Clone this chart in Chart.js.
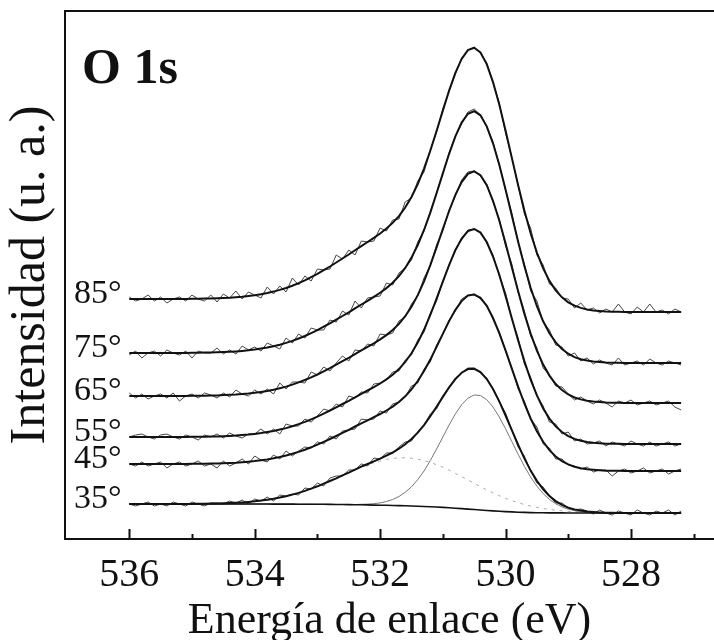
<!DOCTYPE html>
<html>
<head>
<meta charset="utf-8">
<script src="https://cdn.jsdelivr.net/npm/chart.js@4.4.0/dist/chart.umd.min.js"></script>
<style>
  html, body { margin: 0; background: #fff; }
  canvas { display: block; }
</style>
</head>
<body>
<canvas id="o1s" width="714" height="640"></canvas>
<script>
// Binding energy grid (eV), 0.1 eV steps
const energies = [536.0,535.9,535.8,535.7,535.6,535.5,535.4,535.3,535.2,535.1,
  535.0,534.9,534.8,534.7,534.6,534.5,534.4,534.3,534.2,534.1,
  534.0,533.9,533.8,533.7,533.6,533.5,533.4,533.3,533.2,533.1,
  533.0,532.9,532.8,532.7,532.6,532.5,532.4,532.3,532.2,532.1,
  532.0,531.9,531.8,531.7,531.6,531.5,531.4,531.3,531.2,531.1,
  531.0,530.9,530.8,530.7,530.6,530.5,530.4,530.3,530.2,530.1,
  530.0,529.9,529.8,529.7,529.6,529.5,529.4,529.3,529.2,529.1,
  529.0,528.9,528.8,528.7,528.6,528.5,528.4,528.3,528.2,528.1,
  528.0,527.9,527.8,527.7,527.6,527.5,527.4,527.3,527.2];

const angles = ['85°', '75°', '65°', '55°', '45°', '35°'];
const tickValues = [528, 530, 532, 534, 536];

// Fitted envelopes (offset stacked, arbitrary units)
const fit85 = [240,240,240,240,240,240,240,240,240.1,240.1,
  240.2,240.3,240.4,240.5,240.7,241.0,241.3,241.8,242.3,243.0,
  243.8,244.8,246.0,247.4,249.1,251.0,253.3,255.8,258.6,261.8,
  265.1,268.8,272.5,276.5,280.5,284.5,288.8,292.9,297.0,301.1,
  305.5,310.4,316.1,322.9,331.5,342.0,354.9,370.4,388.2,408.0,
  428.4,448.4,466.2,480.1,488.9,491.2,486.5,474.9,456.9,434.4,
  408.4,381.1,354.0,328.4,305.7,286.4,270.6,258.1,248.6,241.7,
  236.7,233.3,231.1,229.6,228.6,228.0,227.4,227.3,227.2,227.1,
  227.1,227,227,227,227,227,227,227,227];
const fit75 = [186,186,186,186,186,186.1,186.1,186.1,186.1,186.1,
  186.2,186.2,186.4,186.5,186.7,186.9,187.2,187.6,188.1,188.7,
  189.4,190.4,191.5,192.8,194.3,196.1,198.1,200.5,203.0,205.9,
  208.9,212.3,215.7,219.3,223.0,226.6,230.6,234.5,238.2,242.1,
  246.2,250.9,256.3,262.9,271.1,281.4,294.0,309.0,326.4,345.7,
  365.6,385.2,402.7,416.4,425.3,427.8,423.7,412.7,395.7,374.3,
  349.6,323.4,297.5,273.1,251.3,232.8,217.7,205.7,196.6,190.0,
  185.3,181.9,179.8,178.5,177.5,176.9,176.4,176.2,176.2,176.1,
  176.1,176,176,176,176,176,176,176,176];
const fit65 = [143,143,143,143,143,143.1,143.1,143.1,143.1,143.1,
  143.2,143.2,143.3,143.5,143.6,143.9,144.2,144.5,145.0,145.5,
  146.2,147.1,148.1,149.3,150.8,152.4,154.4,156.6,159.0,161.7,
  164.5,167.7,170.9,174.3,177.8,181.2,184.9,188.6,192.1,195.7,
  199.6,203.9,209.0,215.1,222.8,232.2,243.9,257.7,273.8,291.6,
  310.0,328.0,344.2,356.9,365.1,367.6,363.8,353.8,338.2,318.5,
  295.7,271.7,247.9,225.4,205.4,188.4,174.4,163.4,155.0,148.9,
  144.5,141.5,139.6,138.3,137.4,136.9,136.4,136.2,136.2,136.1,
  136.1,136,136,136,136,136,136,136,136];
const fit55 = [102,102,102,102,102,102.1,102.1,102.1,102.1,102.1,
  102.2,102.2,102.3,102.4,102.6,102.8,103.1,103.4,103.9,104.4,
  105.1,105.9,106.9,108.0,109.4,110.9,112.8,114.9,117.1,119.7,
  122.4,125.4,128.5,131.7,135.0,138.2,141.7,145.2,148.5,151.9,
  155.5,159.6,164.3,169.9,177.0,185.7,196.4,209.2,224.0,240.4,
  257.3,273.9,288.8,300.4,307.9,310.0,306.4,297.0,282.5,264.3,
  243.1,220.8,198.7,177.9,159.3,143.6,130.6,120.4,112.6,107.0,
  102.9,100.1,98.3,97.1,96.3,95.8,95.3,95.2,95.2,95.1,
  95.1,95,95,95,95,95,95,95,95];
const fit45 = [75,75,75,75,75,75.1,75.1,75.1,75.1,75.1,
  75.2,75.2,75.3,75.4,75.6,75.8,76.0,76.3,76.8,77.3,
  77.9,78.7,79.6,80.7,82.0,83.5,85.2,87.1,89.3,91.7,
  94.3,97.1,100.0,103.0,106.1,109.2,112.5,115.7,118.7,121.8,
  125.0,128.5,132.4,137.0,142.7,149.6,158.0,167.9,179.4,192.1,
  205.1,217.9,229.2,237.9,243.4,244.5,241.1,233.1,221.0,205.9,
  188.6,170.4,152.5,135.5,120.5,107.7,97.2,88.9,82.5,77.9,
  74.6,72.3,70.8,69.8,69.2,68.7,68.3,68.2,68.2,68.1,
  68.1,68,68,68,68,68,68,68,68];
const fit35 = [35,35,35,35,35,35,35,35,35.1,35.1,
  35.1,35.2,35.3,35.4,35.5,35.7,35.9,36.2,36.6,37.1,
  37.7,38.4,39.3,40.2,41.4,42.8,44.4,46.1,48.1,50.4,
  52.7,55.3,58.0,60.7,63.6,66.4,69.4,72.3,75.0,77.6,
  80.4,83.4,86.5,90.3,94.7,100.0,106.4,113.9,122.7,132.3,
  142.1,151.6,159.9,166.3,169.9,170.2,166.9,160.0,150.0,137.6,
  123.5,108.8,94.3,80.6,68.4,58.2,49.7,43.0,37.9,34.2,
  31.4,29.6,28.4,27.5,27.0,26.6,26.3,26.2,26.1,26.1,
  26.1,26,26,26,26,26,26,26,26];

// Measured spectra
const raw85 = [242,238,240,244,238,242,236,240,242,238,
  244,240,238,244,237,245,241,248,240,247,
  244,241,252,245,253,247,261,254,263,258,
  270,269,270,284,280,289,284,298,297,298,
  311,308,319,320,337,341,358,367,389,407,
  430,448,465,481,489,492,486,476,456,436,
  406,382,354,325,311,284,274,255,251,241,
  240,231,236,229,231,226,230,227,235,227,
  225,232,227,235,227,229,225,230,227];
const raw75 = [184,188,181,186,188,183,189,186,184,188,
  181,188,186,186,191,185,189,185,193,189,
  192,188,196,193,190,201,196,205,201,211,
  209,209,219,217,228,224,238,231,241,242,
  243,256,254,266,271,279,297,308,327,346,
  365,386,403,415,427,430,424,412,397,374,
  349,326,297,275,248,238,217,209,194,192,
  183,186,178,181,175,179,176,174,181,174,
  176,178,174,180,176,174,178,176,174];
const raw65 = [146,141,145,140,143,145,141,146,138,143,
  145,141,146,144,141,146,142,149,145,143,
  149,145,150,145,156,150,157,157,156,167,
  164,172,168,176,183,178,189,188,195,193,
  205,204,206,218,222,235,243,261,273,294,
  308,329,343,359,367,368,363,355,337,320,
  293,275,247,228,203,191,171,164,153,152,
  145,139,142,138,135,139,136,132,138,136,
  139,134,136,138,134,136,138,132,129];
const raw55 = [102,104,105,102,100,104,105,102,100,104,
  102,99,104,102,105,101,106,103,101,105,
  105,110,105,110,105,115,113,113,120,117,
  123,130,128,135,132,143,141,147,146,155,
  156,159,167,168,179,184,199,207,226,238,
  258,274,290,299,309,310,307,296,284,263,
  246,220,201,175,162,143,133,117,115,105,
  107,98,100,95,96,98,93,97,95,93,
  98,95,93,97,93,95,97,93,95];
const raw45 = [75,73,77,73,75,77,71,75,77,73,
  75,78,73,75,71,78,73,76,80,75,
  83,79,77,84,80,88,83,88,92,91,
  97,95,103,100,108,109,110,120,119,120,
  128,126,135,137,142,153,156,170,177,194,
  205,219,228,240,244,245,240,234,220,207,
  188,171,150,138,120,112,95,91,80,80,
  74,73,70,72,67,69,69,63,68,70,
  66,68,71,66,68,70,65,68,70];
const raw35 = [35,33,35,37,33,35,33,37,35,33,
  37,35,33,36,36,35,38,36,39,35,
  40,38,42,38,44,43,45,44,51,50,
  56,53,61,63,63,69,69,75,73,81,
  80,86,86,92,97,98,107,114,125,130,
  143,152,161,166,171,171,166,161,150,137,
  126,109,92,83,68,56,52,43,36,36,
  31,29,30,28,25,29,26,24,28,26,
  24,29,26,24,28,26,29,24,28];

// 35° deconvolution: Shirley background and the two O 1s components
const bg35 = [35,35,35,35,35,35,35,35,35,35,
  35,35,35,35,35,35,35,35,35,35,
  35,35,35,34.9,34.9,34.9,34.9,34.8,34.8,34.8,
  34.7,34.7,34.6,34.5,34.5,34.4,34.3,34.2,34.1,33.9,
  33.8,33.7,33.5,33.4,33.2,33.0,32.8,32.5,32.3,32.0,
  31.6,31.2,30.8,30.4,29.9,29.5,29.0,28.5,28.1,27.7,
  27.4,27.1,26.8,26.6,26.4,26.3,26.2,26.1,26.1,26.1,
  26,26,26,26,26,26,26,26,26,26,
  26,26,26,26,26,26,26,26,26];
const lattice35 = [35,35,35,35,35,35,35,35,35,35,
  35,35,35,35,35,35,35,35,35,35,
  35,35,35,34.9,34.9,34.9,34.9,34.8,34.8,34.8,
  34.7,34.7,34.6,34.5,34.5,34.4,34.5,34.7,34.9,35.3,
  36.1,37.5,39.5,42.5,46.7,52.2,59.4,68.0,78.4,90.0,
  102.0,114.0,125.1,134.3,140.8,144.0,143.5,139.4,132.0,122.0,
  110.2,97.5,84.8,72.7,61.9,52.9,45.4,39.6,35.2,32.1,
  29.8,28.3,27.4,26.8,26.5,26.2,26,26,26,26,
  26,26,26,26,26,26,26,26,26];
const hydroxyl35 = [35,35,35,35,35,35,35,35,35.1,35.1,
  35.1,35.2,35.3,35.4,35.5,35.7,35.9,36.2,36.6,37.1,
  37.7,38.4,39.3,40.2,41.4,42.8,44.4,46.1,48.1,50.4,
  52.7,55.3,58.0,60.7,63.6,66.4,69.2,71.8,74.2,76.2,
  78.1,79.6,80.5,81.2,81.2,80.8,79.8,78.4,76.6,74.3,
  71.7,68.8,65.6,62.4,59.0,55.7,52.4,49.1,46.1,43.3,
  40.7,38.4,36.3,34.5,32.9,31.6,30.5,29.5,28.8,28.2,
  27.6,27.3,27.0,26.7,26.5,26.4,26.3,26.2,26.1,26.1,
  26.1,26,26,26,26,26,26,26,26];

const fits = [fit85, fit75, fit65, fit55, fit45, fit35];
const raws = [raw85, raw75, raw65, raw55, raw45, raw35];

const serif = "'Liberation Serif', 'Times New Roman', serif";
const ink = '#111';
const pts = ys => ys.map((y, i) => ({ x: energies[i], y }));

const datasets = [];
fits.forEach((f, k) => {
  datasets.push({ data: pts(raws[k]), borderColor: '#444', borderWidth: 1, order: 2 });
  datasets.push({ data: pts(f), borderColor: ink, borderWidth: 2, order: 1 });
});
datasets.push({ data: pts(lattice35), borderColor: '#777', borderWidth: 1, order: 3 });
datasets.push({ data: pts(hydroxyl35), borderColor: '#aaa', borderWidth: 1, borderDash: [3, 5], order: 3 });
datasets.push({ data: pts(bg35), borderColor: ink, borderWidth: 1.6, order: 1 });

// frame top edge, inward ticks, angle labels and the core-level tag
const annotate = {
  id: 'annotate',
  afterDraw(chart) {
    const { ctx, chartArea: { left, top, right, bottom } } = chart;
    const xs = chart.scales.x, ys = chart.scales.y;
    ctx.save();
    ctx.strokeStyle = ink;
    ctx.lineWidth = 2;
    ctx.beginPath();
    ctx.moveTo(left - 1, top);
    ctx.lineTo(right, top);
    for (let v = 527; v <= 536; v++) {
      const px = Math.round(xs.getPixelForValue(v)) + 0.5;
      ctx.moveTo(px, bottom);
      ctx.lineTo(px, bottom - (v % 2 === 0 ? 10 : 5));
    }
    ctx.stroke();

    ctx.fillStyle = ink;
    ctx.textAlign = 'left';
    ctx.textBaseline = 'alphabetic';
    ctx.font = `34px ${serif}`;
    angles.forEach((a, k) => {
      ctx.fillText(a, left + 9, ys.getPixelForValue(fits[k][0]) + 4);
    });
    ctx.font = `bold 50px ${serif}`;
    ctx.fillText('O 1s', left + 17, top + 72);
    ctx.restore();
  }
};

new Chart(document.getElementById('o1s'), {
  type: 'line',
  data: { datasets },
  plugins: [annotate],
  options: {
    responsive: false,
    animation: false,
    layout: { padding: { top: 11, left: 0, right: 0, bottom: 0 } },
    plugins: { legend: { display: false }, tooltip: { enabled: false } },
    elements: { point: { radius: 0 }, line: { tension: 0 } },
    scales: {
      x: {
        type: 'linear', reverse: true, min: 526.676, max: 537.025,
        afterBuildTicks: s => { s.ticks = tickValues.map(v => ({ value: v })); },
        afterFit: s => { s.height = 101; },
        grid: { display: false, drawTicks: false },
        border: { display: true, color: ink, width: 2 },
        ticks: { color: ink, font: { family: serif, size: 40 }, padding: 12, maxRotation: 0, autoSkip: false },
        title: { display: true, text: 'Energía de enlace (eV)', color: ink,
                 font: { family: serif, size: 44, lineHeight: 1 }, padding: { top: 0, bottom: -3 } }
      },
      y: {
        min: 0, max: 528,
        afterFit: s => { s.width = 65; },
        grid: { display: false, drawTicks: false },
        border: { display: true, color: ink, width: 2 },
        ticks: { display: false },
        title: { display: true, text: 'Intensidad (u. a.)', color: ink,
                 font: { family: serif, size: 50, lineHeight: 1 }, padding: { top: 6, bottom: 0 } }
      }
    }
  }
});
</script>
</body>
</html>
